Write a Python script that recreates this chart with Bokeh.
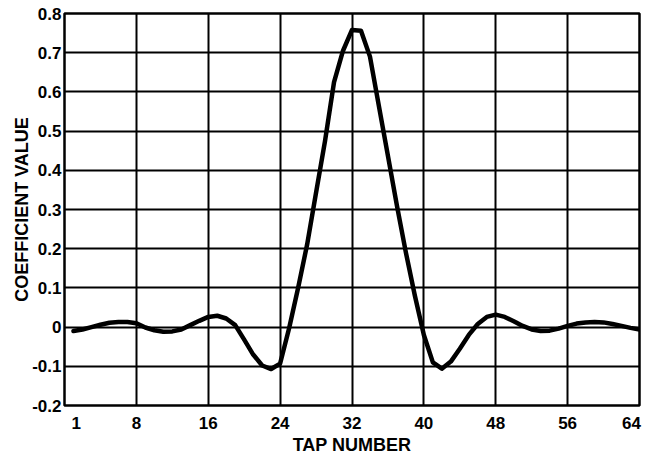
from bokeh.plotting import figure
from bokeh.models import Range1d, FixedTicker
from bokeh.embed import file_html
from bokeh.resources import INLINE

taps = list(range(1, 65))
coeffs = [
    -0.010, -0.006, 0.000, 0.006, 0.011, 0.013, 0.013, 0.010,
    -0.001, -0.008, -0.012, -0.011, -0.006, 0.005, 0.016, 0.026,
    0.029, 0.022, 0.005, -0.032, -0.070, -0.098, -0.107, -0.093,
    -0.003, 0.100, 0.210, 0.343, 0.475, 0.625, 0.705, 0.758,
    0.756, 0.690, 0.563, 0.437, 0.310, 0.190, 0.080, -0.020,
    -0.090, -0.106, -0.088, -0.055, -0.020, 0.008, 0.026, 0.032,
    0.026, 0.015, 0.003, -0.006, -0.010, -0.009, -0.004, 0.003,
    0.009, 0.012, 0.013, 0.012, 0.008, 0.003, -0.002, -0.006,
]
x_ticks = [1, 8, 16, 24, 32, 40, 48, 56, 64]
x_grid = [8, 16, 24, 32, 40, 48, 56]
y_ticks = [-0.2, -0.1, 0, 0.1, 0.2, 0.3, 0.4, 0.5, 0.6, 0.7, 0.8]
y_labels = {-0.2: "-0.2", -0.1: "-0.1", 0: "0", 0.1: "0.1", 0.2: "0.2", 0.3: "0.3",
            0.4: "0.4", 0.5: "0.5", 0.6: "0.6", 0.7: "0.7", 0.8: "0.8"}
FONT = "Liberation Sans"

# edge tick labels are nudged inward (as in the original) so they stay on the page
NUDGE_FIRST, NUDGE_LAST = 0.3, -0.9
x_label_pos = list(x_ticks)
x_label_pos[0] = x_ticks[0] + NUDGE_FIRST
x_label_pos[-1] = x_ticks[-1] + NUDGE_LAST
x_label_text = {pos: str(t) for pos, t in zip(x_label_pos, x_ticks)}

p = figure(frame_width=575, frame_height=392, output_backend="svg", toolbar_location=None,
           x_range=Range1d(0, 64), y_range=Range1d(-0.2, 0.8),
           min_border_left=64, min_border_right=6, min_border_top=13, min_border_bottom=50)

p.line(taps, coeffs, line_color="black", line_width=4.5, line_join="round", line_cap="round")

p.outline_line_color = "black"
p.outline_line_width = 2.5
p.outline_line_alpha = 1

p.xaxis.ticker = FixedTicker(ticks=x_label_pos)
p.xaxis.major_label_overrides = x_label_text
p.yaxis.ticker = FixedTicker(ticks=y_ticks)
p.yaxis.major_label_overrides = y_labels
p.xgrid.ticker = FixedTicker(ticks=x_grid)
p.ygrid.ticker = FixedTicker(ticks=y_ticks[1:-1])
for g in (p.xgrid, p.ygrid):
    g.grid_line_color = "black"
    g.grid_line_width = 2
    g.grid_line_alpha = 1

for ax in (p.xaxis, p.yaxis):
    ax.axis_line_color = None
    ax.major_tick_line_color = None
    ax.minor_tick_line_color = None
    ax.major_label_text_font = FONT
    ax.major_label_text_font_style = "bold"
    ax.major_label_text_font_size = "17px"
    ax.major_label_text_color = "black"
    ax.axis_label_text_font = FONT
    ax.axis_label_text_font_style = "bold"
    ax.axis_label_text_font_size = "18px"
    ax.axis_label_text_color = "black"

p.xaxis.axis_label = "TAP NUMBER"
p.yaxis.axis_label = "COEFFICIENT VALUE"
p.xaxis.major_label_standoff = 5
p.yaxis.major_label_standoff = -3
p.xaxis.axis_label_standoff = 3
p.yaxis.axis_label_standoff = -3

open("out.html", "w").write(file_html(p, INLINE))
